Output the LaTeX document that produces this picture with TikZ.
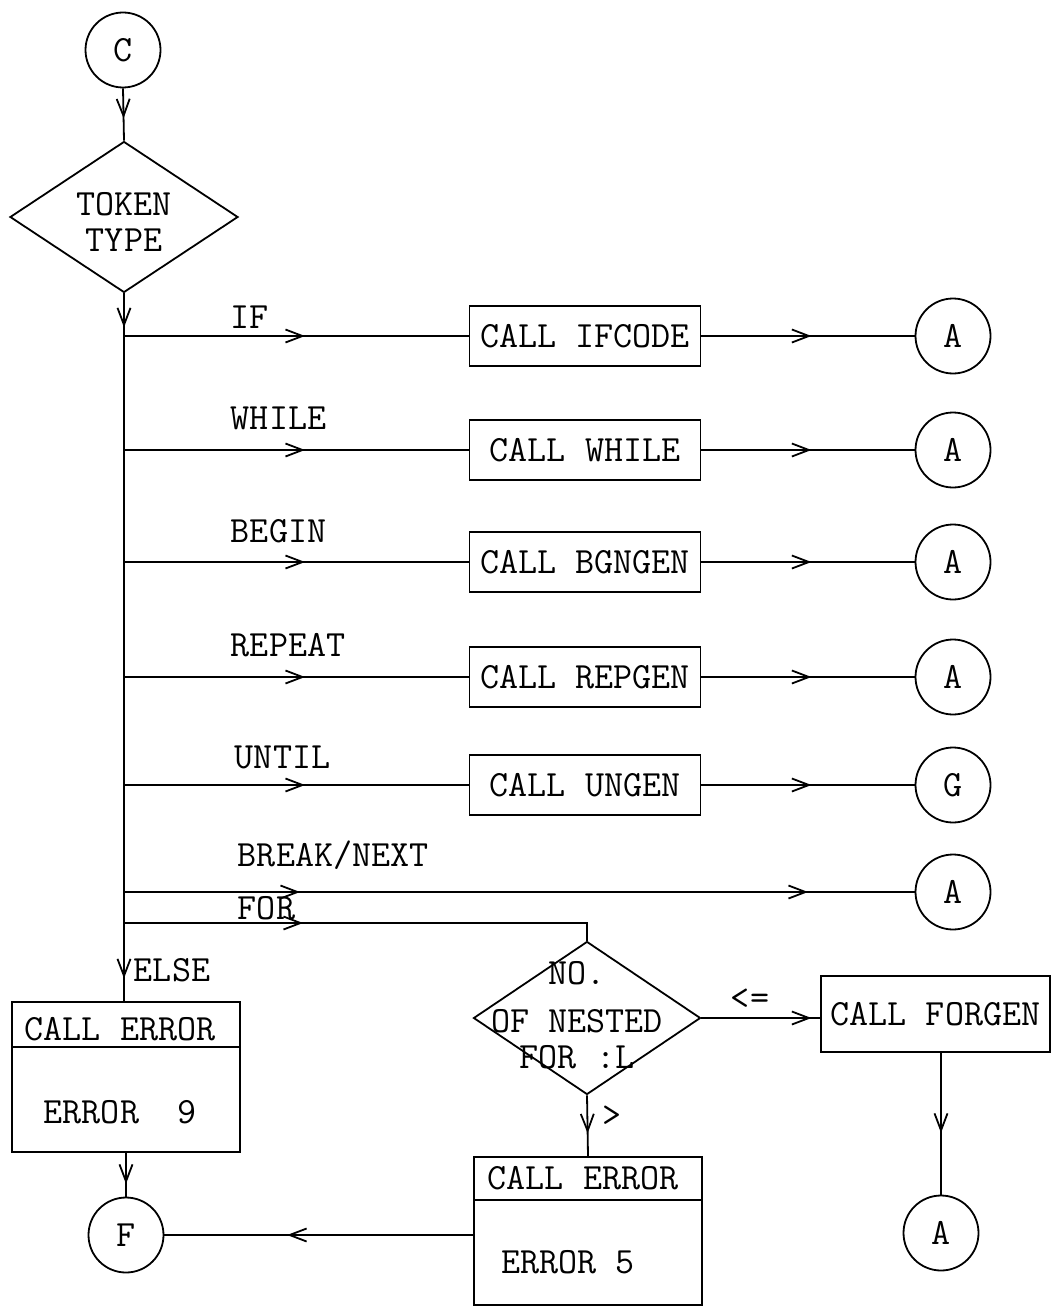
\documentclass[tikz,border=0pt]{standalone}
\usepackage{fontspec}
\usetikzlibrary{arrows.meta,shapes.geometric,decorations.markings}
\begin{document}
\begin{tikzpicture}[x=1pt,y=-1pt,line width=1.8pt,
  font=\ttfamily\fontsize{37}{36}\selectfont,
  conn/.style={circle,draw,minimum size=75pt,inner sep=0pt},
  procbox/.style={rectangle,draw,minimum width=231pt,minimum height=60pt,inner sep=0pt},
  splitbox/.style={rectangle,draw,minimum width=228pt,inner sep=0pt},
  decision/.style={diamond,draw,inner sep=0pt},
  lbl/.style={anchor=west,inner sep=0pt},
  txt/.style={inner sep=0pt,align=center},
  arrowat/.style={postaction={decorate,decoration={markings,mark=at position #1 with {\arrow{Straight Barb[length=17pt,width=13pt]}}}}}
]
\useasboundingbox (0,0) rectangle (1053,1308);

% start and decision
\node[conn] (C) at (123,50) {C};
\node[decision,minimum width=228pt,minimum height=151pt] (tok) at (124,217) {};
\node[txt] (toktxt) at (124,222) {TOKEN\\TYPE};
\draw[arrowat=30pt] (C.south) -- (tok.north);

% process boxes
\node[procbox] (b1) at (585,336) {CALL IFCODE};
\node[procbox] (b2) at (585,450) {CALL WHILE};
\node[procbox] (b3) at (585,562) {CALL BGNGEN};
\node[procbox] (b4) at (585,677) {CALL REPGEN};
\node[procbox] (b5) at (585,785) {CALL UNGEN};

% connectors (circles)
\node[conn] (a1) at (953,336) {A};
\node[conn] (a2) at (953,450) {A};
\node[conn] (a3) at (953,562) {A};
\node[conn] (a4) at (953,677) {A};
\node[conn] (a5) at (953,785) {G};
\node[conn] (a6) at (953,892) {A};

% junctions on the trunk
\coordinate (j1) at (124,336);
\coordinate (j2) at (124,450);
\coordinate (j3) at (124,562);
\coordinate (j4) at (124,677);
\coordinate (j5) at (124,785);
\coordinate (j6) at (124,892);
\coordinate (j7) at (124,923);

% branch labels
\node[lbl] (lif) at (230,317) {IF};
\node[lbl] (lwhile) at (230,418) {WHILE};
\node[lbl] (lbegin) at (230,531) {BEGIN};
\node[lbl] (lrepeat) at (230,645) {REPEAT};
\node[lbl] (luntil) at (234,757) {UNTIL};
\node[lbl] (lbreak) at (237,855) {BREAK/NEXT};
\node[lbl] (lfor) at (237,908) {FOR};

% branches
\foreach \i in {1,...,5} {
  \draw[arrowat=181pt] (j\i) -- (b\i.west);
  \draw[arrowat=110pt] (b\i.east) -- (a\i.west);
}
\draw[arrowat=176pt,arrowat=684pt] (j6) -- (a6.west);

% ELSE branch
\node[splitbox,minimum height=150pt] (e9) at (126,1077) {};
\draw ([yshift=-46pt]e9.north west) -- ([yshift=-46pt]e9.north east);
\node[txt] (e9a) at (120,1029) {CALL ERROR};
\node[txt] (e9b) at (120,1112) {ERROR~~9};
\draw[arrowat=34pt,arrowat=685pt] (tok.south) -- (tok.south |- e9.north);
\node[lbl] (lelse) at (133,970) {ELSE};

\node[conn] (F) at (126,1235) {F};
\draw[arrowat=31pt] (e9.south) -- (F.north);

% FOR branch
\node[decision,minimum width=227pt,minimum height=153pt] (nfor) at (587,1018) {};
\node[txt] (nfortxt) at (577,1015) {NO.\\[12pt]OF NESTED\\FOR :L};
\draw[arrowat=179pt] (j7) -| (nfor.north);

\node[procbox,minimum width=229pt,minimum height=76pt] (forgen) at (935.5,1014) {CALL FORGEN};
\draw[arrowat=110pt] (nfor.east) -- (nfor.east -| forgen.west);
\node[inner sep=0pt] (lle) at (750,999) {<=};

\node[conn] (aF) at (941,1233) {A};
\draw[arrowat=80pt] (aF.north |- forgen.south) -- (aF.north);

\node[splitbox,minimum height=148pt] (e5) at (588,1231) {};
\draw ([yshift=-44pt]e5.north west) -- ([yshift=-44pt]e5.north east);
\node[txt] (e5a) at (583,1178) {CALL ERROR};
\node[txt] (e5b) at (568,1262) {ERROR 5};
\draw[arrowat=38pt] (nfor.south) -- (e5.north);
\node[inner sep=0pt] (lgt) at (612,1116) {>};

\draw[arrowat=186pt] (e5.west |- F.east) -- (F.east);
\end{tikzpicture}
\end{document}
